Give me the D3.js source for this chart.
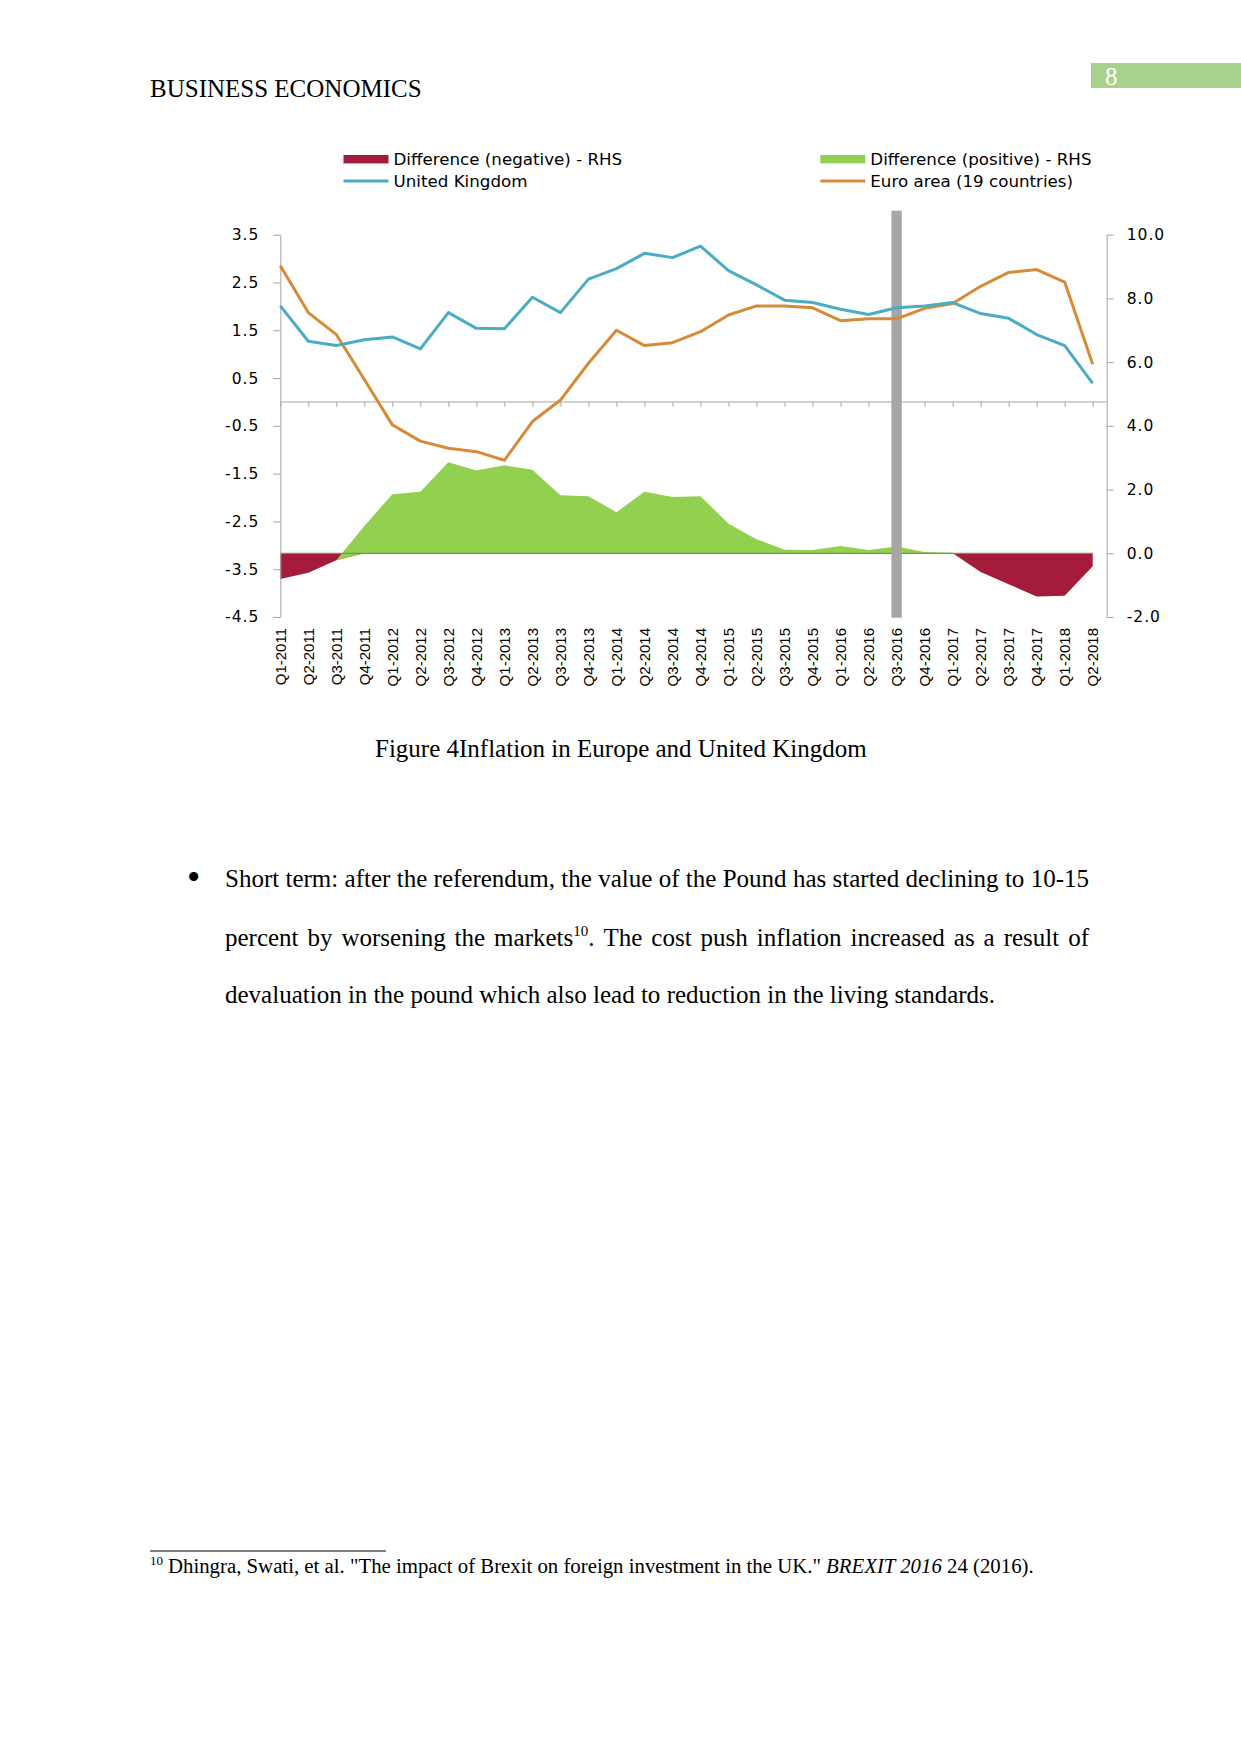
<!DOCTYPE html>
<html>
<head>
<meta charset="utf-8">
<script src="https://cdn.jsdelivr.net/npm/d3@7"></script>
<style>
  body { margin: 0; background: #ffffff; }
  svg { display: block; }
</style>
</head>
<body>
<svg id="page" width="1241" height="1754"></svg>
<script>
// ---------------- DATA ----------------
const categories = ["Q1-2011","Q2-2011","Q3-2011","Q4-2011","Q1-2012","Q2-2012","Q3-2012","Q4-2012",
  "Q1-2013","Q2-2013","Q3-2013","Q4-2013","Q1-2014","Q2-2014","Q3-2014","Q4-2014",
  "Q1-2015","Q2-2015","Q3-2015","Q4-2015","Q1-2016","Q2-2016","Q3-2016","Q4-2016",
  "Q1-2017","Q2-2017","Q3-2017","Q4-2017","Q1-2018","Q2-2018"];

const ukValues = [2.01,1.27,1.18,1.30,1.36,1.11,1.87,1.54,1.53,2.19,1.87,2.57,2.79,3.11,3.02,3.26,
  2.75,2.45,2.13,2.08,1.94,1.83,1.97,2.01,2.08,1.85,1.75,1.41,1.18,0.39];

const euroValues = [2.85,1.87,1.41,0.47,-0.48,-0.82,-0.97,-1.04,-1.22,-0.41,0.04,0.81,1.50,1.18,1.24,1.47,
  1.82,2.01,2.01,1.97,1.70,1.74,1.74,1.96,2.06,2.42,2.71,2.77,2.51,0.79];

const diffNegative = [-0.81,-0.61,-0.22,0,0,0,0,0,0,0,0,0,0,0,0,0,
  0,0,0,0,0,0,0,0,0,-0.59,-0.97,-1.36,-1.33,-0.41];

const diffPositive = [0,0,0,0.86,1.85,1.93,2.86,2.60,2.76,2.62,1.82,1.79,1.29,1.93,1.77,1.79,
  0.93,0.44,0.11,0.10,0.23,0.10,0.21,0.04,0.02,0,0,0,0,0];

const leftTicks = [3.5,2.5,1.5,0.5,-0.5,-1.5,-2.5,-3.5,-4.5];
const rightTicks = [10,8,6,4,2,0,-2];
const referendumQuarter = "Q3-2016";

const legendLabels = ["Difference (negative) - RHS","Difference (positive) - RHS","United Kingdom","Euro area (19 countries)"];
const legendKinds = ["box","box","line","line"];

// ---------------- STYLE ----------------
const colNeg = "#a51b3b", colPos = "#92d050", colUK = "#4bacc6", colEuro = "#d68b38";
const axisCol = "#a6a6a6";
const sans = "'DejaVu Sans', Verdana, sans-serif";
const serif = "'Liberation Serif', 'Times New Roman', serif";

const svg = d3.select("#page");

// ---------------- HEADER ----------------
svg.append("text").attr("x", 150).attr("y", 97).attr("font-family", serif).attr("font-size", 25)
  .attr("fill", "#000").text("BUSINESS ECONOMICS");
svg.append("rect").attr("x", 1091).attr("y", 63).attr("width", 150).attr("height", 25).attr("fill", "#a9d18e");
svg.append("text").attr("x", 1105).attr("y", 85).attr("font-family", serif).attr("font-size", 25)
  .attr("fill", "#fff").text("8");

// ---------------- SCALES ----------------
const x = d3.scalePoint().domain(categories).range([280.3, 1092.7]);
const yL = d3.scaleLinear().domain([-4.5, 3.5]).range([617, 234.7]);
const yR = d3.scaleLinear().domain([-2, 10]).range([617, 234.7]);
const fmt = v => d3.format(".1f")(v).replace("\u2212", "-");

const chart = svg.append("g");

// ---------------- AREAS (stacked, RHS) ----------------
const rows = categories.map((c, i) => ({cat: c, neg: diffNegative[i], pos: diffPositive[i]}));
const stacked = d3.stack().keys(["neg", "pos"])(rows);
const area = d3.area().x(d => x(d.data.cat)).y0(d => yR(d[0])).y1(d => yR(d[1]));
chart.append("path").datum(stacked[0]).attr("d", area).attr("fill", colNeg);
chart.append("path").datum(stacked[1]).attr("d", area).attr("fill", colPos);
// zero line of the difference areas
chart.append("line").attr("x1", x(categories[0])).attr("x2", x(categories[categories.length-1]))
  .attr("y1", yR(0)).attr("y2", yR(0)).attr("stroke", "#6f9a45").attr("stroke-width", 1.2);

// ---------------- REFERENDUM BAR ----------------
chart.append("rect").attr("x", x(referendumQuarter) - 5.2).attr("y", 210.7)
  .attr("width", 10.4).attr("height", 617.7 - 210.7).attr("fill", "#a6a6a6");

// ---------------- AXES ----------------
const leftAxis = d3.axisLeft(yL).tickValues(leftTicks).tickSize(7).tickSizeOuter(0).tickPadding(14).tickFormat(fmt);
const gL = chart.append("g").attr("transform", "translate(280.3,0)").call(leftAxis);
const rightAxis = d3.axisRight(yR).tickValues(rightTicks).tickSize(7).tickSizeOuter(0).tickPadding(13).tickFormat(fmt);
const gR = chart.append("g").attr("transform", "translate(1106.7,0)").call(rightAxis);
[gL, gR].forEach(g => {
  g.select(".domain").attr("stroke", axisCol);
  g.selectAll(".tick line").attr("stroke", axisCol);
  g.selectAll(".tick text").attr("font-family", sans).attr("font-size", 15.5)
    .attr("letter-spacing", "1px").attr("fill", "#000");
});

// category axis at zero of LHS
const catAxis = d3.axisBottom(x).tickSize(5).tickSizeOuter(0).tickFormat("");
const gX = chart.append("g").attr("transform", `translate(0,${yL(0)})`).call(catAxis);
gX.select(".domain").remove();
gX.selectAll(".tick line").attr("stroke", axisCol);
chart.append("line").attr("x1", 280.3).attr("x2", 1106.7).attr("y1", yL(0)).attr("y2", yL(0))
  .attr("stroke", axisCol).attr("stroke-width", 1);

// category labels (rotated)
chart.append("g").selectAll("text").data(categories).join("text")
  .attr("transform", d => `translate(${x(d)},628) rotate(-90)`)
  .attr("text-anchor", "end").attr("dominant-baseline", "central")
  .attr("font-family", "'Liberation Sans', Arial, sans-serif").attr("font-size", 15)
  .attr("fill", "#000").text(d => d);

// ---------------- LINES (LHS) ----------------
const line = d3.line().x((d, i) => x(categories[i])).y(d => yL(d));
chart.append("path").datum(euroValues).attr("d", line).attr("fill", "none")
  .attr("stroke", colEuro).attr("stroke-width", 3).attr("stroke-linejoin", "round");
chart.append("path").datum(ukValues).attr("d", line).attr("fill", "none")
  .attr("stroke", colUK).attr("stroke-width", 3).attr("stroke-linejoin", "round");

// ---------------- LEGEND ----------------
const legendColors = [colNeg, colPos, colUK, colEuro];
const legX = [343.5, 820.3, 343.5, 820.3];
const legY = [159.2, 159.2, 181, 181];
const leg = svg.append("g");
legendLabels.forEach((lab, i) => {
  if (legendKinds[i] === "box") {
    leg.append("rect").attr("x", legX[i]).attr("y", legY[i] - 4.2).attr("width", 45).attr("height", 8.4)
      .attr("fill", legendColors[i]);
  } else {
    leg.append("line").attr("x1", legX[i]).attr("x2", legX[i] + 45).attr("y1", legY[i]).attr("y2", legY[i])
      .attr("stroke", legendColors[i]).attr("stroke-width", 3);
  }
  leg.append("text").attr("x", legX[i] + 50).attr("y", legY[i] + 5.8)
    .attr("font-family", sans).attr("font-size", 16.7).attr("fill", "#000").text(lab);
});

// ---------------- CAPTION ----------------
svg.append("text").attr("x", 375).attr("y", 756.5).attr("font-family", serif).attr("font-size", 25)
  .attr("fill", "#000").text("Figure 4Inflation in Europe and United Kingdom");

// ---------------- BODY PARAGRAPH (justified) ----------------
svg.append("text").attr("x", 187).attr("y", 890).attr("font-family", serif).attr("font-size", 38).text("\u2022");

const paraLines = [
  {words: "Short term: after the referendum, the value of the Pound has started declining to 10-15".split(" "), justify: true},
  {words: ["percent","by","worsening","the",[["markets"],["10","sup"],["."]],"The","cost","push","inflation","increased","as","a","result","of"], justify: true},
  {words: "devaluation in the pound which also lead to reduction in the living standards.".split(" "), justify: false}
];
const lineBase = [887, 945.5, 1003];
const px0 = 225, px1 = 1089;
paraLines.forEach((ln, li) => {
  const g = svg.append("g");
  const nodes = ln.words.map(w => {
    const t = g.append("text").attr("y", lineBase[li]).attr("font-family", serif).attr("font-size", 25).attr("fill", "#000");
    if (typeof w === "string") { t.text(w); }
    else {
      w.forEach(seg => {
        const s = t.append("tspan").text(seg[0]);
        if (seg[1] === "sup") s.attr("font-size", 15).attr("dy", -10);
        else if (seg[0] === ".") s.attr("dy", 10);
      });
    }
    return t;
  });
  const widths = nodes.map(n => n.node().getComputedTextLength());
  const total = d3.sum(widths);
  const space = ln.justify ? (px1 - px0 - total) / (nodes.length - 1) : 6.25;
  let cx = px0;
  nodes.forEach((n, i) => { n.attr("x", cx); cx += widths[i] + space; });
});

// ---------------- FOOTNOTE ----------------
svg.append("line").attr("x1", 150).attr("x2", 386).attr("y1", 1551).attr("y2", 1551)
  .attr("stroke", "#000").attr("stroke-width", 1.2);
svg.append("text").attr("x", 150).attr("y", 1565).attr("font-family", serif).attr("font-size", 13).text("10");
const fn = svg.append("text").attr("x", 168).attr("y", 1573).attr("font-family", serif).attr("font-size", 20.8).attr("fill", "#000");
fn.append("tspan").text("Dhingra, Swati, et al. \"The impact of Brexit on foreign investment in the UK.\" ");
fn.append("tspan").attr("font-style", "italic").text("BREXIT 2016");
fn.append("tspan").text(" 24 (2016).");
</script>
</body>
</html>
